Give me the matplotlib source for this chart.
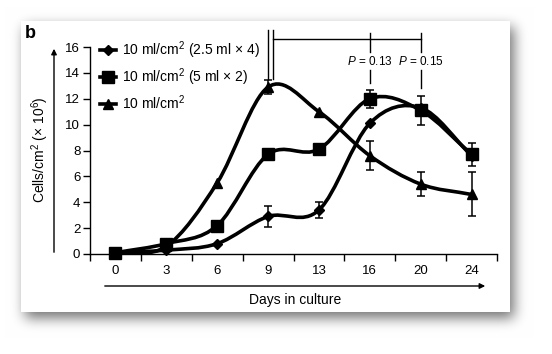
import numpy as np
import matplotlib
matplotlib.use("Agg")
import matplotlib.pyplot as plt
from matplotlib.path import Path
from matplotlib.patches import PathPatch
from matplotlib.lines import Line2D

plt.rcParams['font.family'] = ['Liberation Sans', 'DejaVu Sans']
plt.rcParams['mathtext.fontset'] = 'custom'
plt.rcParams['mathtext.rm'] = 'Liberation Sans'
plt.rcParams['mathtext.it'] = 'Liberation Sans:italic'

# données
days = ['0', '3', '6', '9', '13', '16', '20', '24']
dem_x4 = [0.1, 0.3, 0.8, 2.9, 3.4, 10.1, 11.3, 7.6]
err_x4 = [0, 0, 0, 0.8, 0.65, 0, 0, 0]
dem_x2 = [0.1, 0.8, 2.2, 7.7, 8.1, 12.0, 11.1, 7.7]
err_x2 = [0, 0, 0, 0, 0, 0.7, 1.1, 0.9]
dem_1 = [0.1, 0.6, 5.5, 12.9, 11.0, 7.6, 5.4, 4.6]
err_1 = [0, 0, 0, 0.55, 0, 1.1, 0.9, 1.7]
labels = ['10 ml/cm$^{2}$ (2.5 ml \u00d7 4)', '10 ml/cm$^{2}$ (5 ml \u00d7 2)', '10 ml/cm$^{2}$']
markers = ['D', 's', '^']
msizes = [5, 8, 7.5]

W, H = 552, 354
fig = plt.figure(figsize=(W / 100, H / 100), dpi=100)

# ombre du cadre (flou simple)
img = np.zeros((H, W))
img[27:318, 25:514] = 1.0
for _ in range(4):
    k = np.ones(11) / 11
    img = np.apply_along_axis(lambda r: np.convolve(r, k, mode='same'), 1, img)
    img = np.apply_along_axis(lambda c: np.convolve(c, k, mode='same'), 0, img)
rgba = np.ones((H, W, 4))
rgba[..., :3] = 1 - 0.55 * img[..., None]
rgba[21:312, 21:510, :3] = 1.0
fig.figimage(rgba, 0, 0, origin='upper', zorder=0)

ax = fig.add_axes([90 / W, 1 - 254 / H, 407 / W, 207 / H], zorder=2)
ax.patch.set_alpha(0)


def courbe(ax, y):
    # spline cardinale dessinée via Path (bezier)
    x = np.arange(len(y), dtype=float)
    y = np.asarray(y, dtype=float)
    m = np.zeros(len(y))
    m[1:-1] = (y[2:] - y[:-2]) / 2
    m[0] = y[1] - y[0]
    m[-1] = y[-1] - y[-2]
    verts = [(x[0], y[0])]
    codes = [Path.MOVETO]
    for i in range(len(y) - 1):
        verts += [(x[i] + 1 / 3, y[i] + m[i] / 3), (x[i + 1] - 1 / 3, y[i + 1] - m[i + 1] / 3), (x[i + 1], y[i + 1])]
        codes += [Path.CURVE4] * 3
    ax.add_patch(PathPatch(Path(verts, codes), fill=False, lw=2.6, color='black', clip_on=False, zorder=3))


for y, e, mk, ms in zip([dem_x4, dem_x2, dem_1], [err_x4, err_x2, err_1], markers, msizes):
    courbe(ax, y)
    x = np.arange(len(y))
    e = np.asarray(e)
    sel = e > 0
    ax.errorbar(x[sel], np.asarray(y)[sel], yerr=e[sel], fmt='none', ecolor='black', elinewidth=1.1, capsize=3, capthick=1.1, zorder=4, clip_on=False)
    ax.plot(x, y, ls='none', marker=mk, ms=ms, color='black', clip_on=False, zorder=5)

ax.set_xlim(-0.5, 7.5)
ax.set_ylim(0, 16)
ax.set_yticks(range(0, 17, 2))
ax.set_xticks(np.arange(-0.5, 8, 1))
ax.set_xticklabels([])
ax.set_xticks(range(8), minor=True)
ax.set_xticklabels(days, minor=True)
ax.tick_params(axis='x', which='minor', length=0, pad=8, labelsize=9.5)
ax.tick_params(axis='x', which='major', length=5, width=1)
ax.tick_params(axis='y', length=5, width=1, labelsize=9.5, pad=2)
for s in ['top', 'right']:
    ax.spines[s].set_visible(False)
for s in ['left', 'bottom']:
    ax.spines[s].set_linewidth(1)

# crochets de comparaison
kw = dict(color='black', lw=1, clip_on=False, zorder=2)
ax.plot([3, 3], [13.5, 17.3], **kw)
ax.plot([3.1, 3.1], [13.5, 17.3], **kw)
ax.plot([3.1, 6], [16.6, 16.6], **kw)
ax.plot([5, 5], [15.6, 17.1], **kw)
ax.plot([5, 5], [13.2, 14.2], **kw)
ax.plot([6, 6], [15.6, 17.1], **kw)
ax.plot([6, 6], [12.8, 14.2], **kw)
ax.text(5, 14.9, '$P$ = 0.13', ha='center', va='center', fontsize=8.5)
ax.text(6, 14.9, '$P$ = 0.15', ha='center', va='center', fontsize=8.5)

handles = [Line2D([], [], color='black', lw=2.6, marker=mk, ms=ms) for mk, ms in zip(markers, msizes)]
ax.legend(handles, labels, loc='upper left', bbox_to_anchor=(0.01, 1.065), frameon=False,
          fontsize=10, handlelength=1.2, handletextpad=0.4, labelspacing=0.4, borderaxespad=0)

# flèches et titres d'axes
fig.patches.append(matplotlib.patches.FancyArrowPatch((54 / W, 1 - 255 / H), (54 / W, 1 - 46 / H), transform=fig.transFigure,
                                                      arrowstyle='-|>', mutation_scale=8, lw=1, color='black'))
fig.patches.append(matplotlib.patches.FancyArrowPatch((102 / W, 1 - 286 / H), (488 / W, 1 - 286 / H), transform=fig.transFigure,
                                                      arrowstyle='-|>', mutation_scale=8, lw=1, color='black'))
fig.text(40 / W, 1 - 150 / H, 'Cells/cm$^{2}$ (\u00d7 10$^{6}$)', rotation=90, ha='center', va='center', fontsize=10)
fig.text(295 / W, 1 - 300 / H, 'Days in culture', ha='center', va='center', fontsize=10)
fig.text(25 / W, 1 - 33 / H, 'b', fontsize=13, fontweight='bold', ha='left', va='center')

fig.savefig('out.png', dpi=100)
